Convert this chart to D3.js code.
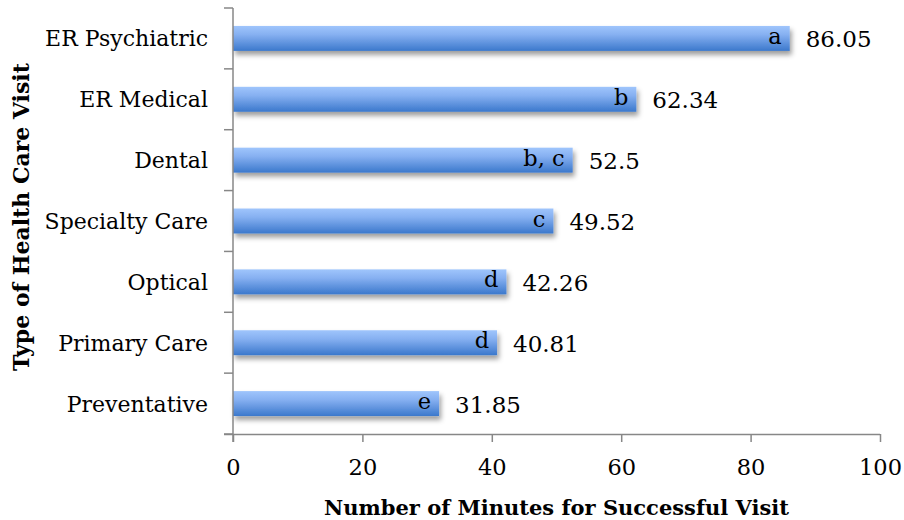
<!DOCTYPE html>
<html>
<head>
<meta charset="utf-8">
<script src="https://cdn.jsdelivr.net/npm/d3@7"></script>
<style>
  html, body { margin: 0; padding: 0; background: #fff; }
  svg { display: block; }
  text { font-family: "DejaVu Serif", serif; fill: #000; }
</style>
</head>
<body>
<svg id="chart" width="904" height="520"></svg>
<script>
// Mean minutes per visit type, with significance-group letters
const categories = ["ER Psychiatric", "ER Medical", "Dental", "Specialty Care", "Optical", "Primary Care", "Preventative"];
const minutes = [86.05, 62.34, 52.5, 49.52, 42.26, 40.81, 31.85];
const groups = ["a", "b", "b, c", "c", "d", "d", "e"];
const xTicks = [0, 20, 40, 60, 80, 100];

const svg = d3.select("#chart");
const plotLeft = 233, plotRight = 880, plotTop = 8, plotBottom = 434;

const x = d3.scaleLinear().domain([0, 100]).range([plotLeft, plotRight]);
const y = d3.scaleBand().domain(categories).range([plotTop, plotBottom]).padding(0);
const barH = y.bandwidth() * 0.41;

// Bar fill gradient and soft drop shadow
const defs = svg.append("defs");
const grad = defs.append("linearGradient")
  .attr("id", "barGrad").attr("x1", 0).attr("y1", 0).attr("x2", 0).attr("y2", 1);
grad.append("stop").attr("offset", "0%").attr("stop-color", "#9fc5fc");
grad.append("stop").attr("offset", "35%").attr("stop-color", "#86b0f1");
grad.append("stop").attr("offset", "100%").attr("stop-color", "#3b78cc");

const shadow = defs.append("filter").attr("id", "shadow")
  .attr("x", "-5%").attr("y", "-40%").attr("width", "115%").attr("height", "200%");
shadow.append("feDropShadow")
  .attr("dx", 2).attr("dy", 4).attr("stdDeviation", 2.6)
  .attr("flood-color", "#000").attr("flood-opacity", 0.38);

// Bars
svg.append("g").selectAll("rect")
  .data(categories)
  .join("rect")
  .attr("x", x(0))
  .attr("y", (d) => y(d) + (y.bandwidth() - barH) / 2)
  .attr("width", (d, i) => x(minutes[i]) - x(0))
  .attr("height", barH)
  .attr("fill", "url(#barGrad)")
  .attr("filter", "url(#shadow)");

// Group letters inside bar ends
svg.append("g").selectAll("text")
  .data(categories)
  .join("text")
  .attr("x", (d, i) => x(minutes[i]) - 8)
  .attr("y", (d) => y(d) + y.bandwidth() / 2 + 5.5)
  .attr("text-anchor", "end")
  .style("font-size", "22.5px")
  .text((d, i) => groups[i]);

// Value labels
svg.append("g").selectAll("text")
  .data(categories)
  .join("text")
  .attr("x", (d, i) => x(minutes[i]) + 16)
  .attr("y", (d) => y(d) + y.bandwidth() / 2 + 9)
  .style("font-size", "23px")
  .text((d, i) => minutes[i]);

// Axes
const axisColor = "#878787";
const xAxis = svg.append("g")
  .attr("transform", `translate(0,${plotBottom})`)
  .call(d3.axisBottom(x).tickValues(xTicks).tickSize(8).tickPadding(17).tickSizeOuter(0));
xAxis.select(".domain").attr("stroke", axisColor).attr("stroke-width", 1.5)
  .attr("d", `M${plotLeft - 9},0.5H${plotRight}`);
xAxis.selectAll(".tick line").attr("stroke", axisColor).attr("stroke-width", 1.5);
xAxis.selectAll(".tick text")
  .style("font-family", "'DejaVu Serif', serif").style("font-size", "22.5px").attr("fill", "#000");

// Category axis: ticks on band boundaries, labels at band centres
const yAxis = svg.append("g");
yAxis.append("line")
  .attr("x1", plotLeft).attr("x2", plotLeft).attr("y1", plotTop).attr("y2", plotBottom + 8)
  .attr("stroke", axisColor).attr("stroke-width", 1.5);
const bounds = categories.map((c) => y(c)).concat([plotBottom]);
yAxis.selectAll("line.tick")
  .data(bounds)
  .join("line")
  .attr("class", "tick")
  .attr("x1", plotLeft - 9).attr("x2", plotLeft)
  .attr("y1", (d) => d).attr("y2", (d) => d)
  .attr("stroke", axisColor).attr("stroke-width", 1.5);
yAxis.selectAll("text")
  .data(categories)
  .join("text")
  .attr("x", plotLeft - 25)
  .attr("y", (d) => y(d) + y.bandwidth() / 2 + 8)
  .attr("text-anchor", "end")
  .style("font-size", "22px")
  .text((d) => d);

// Axis titles
svg.append("text")
  .attr("x", (plotLeft + plotRight) / 2)
  .attr("y", 515)
  .attr("text-anchor", "middle")
  .style("font-size", "21px").style("font-weight", "bold")
  .text("Number of Minutes for Successful Visit");

svg.append("text")
  .attr("transform", `translate(29,${(plotTop + plotBottom) / 2 - 4}) rotate(-90)`)
  .attr("text-anchor", "middle")
  .style("font-size", "22px").style("font-weight", "bold")
  .text("Type of Health Care Visit");
</script>
</body>
</html>
